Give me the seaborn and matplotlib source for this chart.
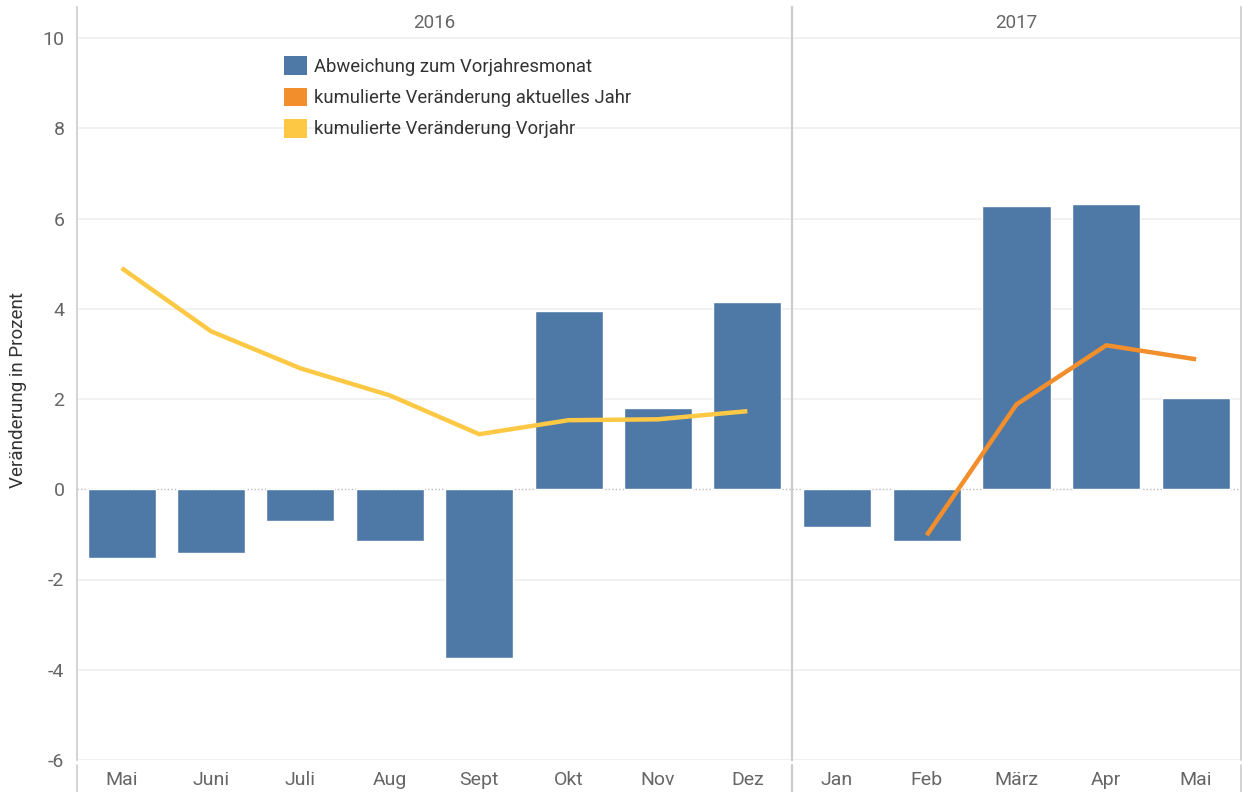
import matplotlib
matplotlib.use("Agg")
import matplotlib.pyplot as plt
from matplotlib.lines import Line2D
from matplotlib.patches import Patch
import seaborn as sns
import numpy as np
import pandas as pd

# ---- data ----
months_2016 = ["Mai", "Juni", "Juli", "Aug", "Sept", "Okt", "Nov", "Dez"]
months_2017 = ["Jan", "Feb", "März", "Apr", "Mai"]
abw_2016 = [-1.53, -1.42, -0.71, -1.15, -3.73, 3.95, 1.80, 4.15]
abw_2017 = [-0.84, -1.15, 6.27, 6.32, 2.02]
kum_vorjahr_2016 = [4.90, 3.50, 2.68, 2.08, 1.22, 1.53, 1.55, 1.73]
kum_aktuell_2017 = [np.nan, -1.02, 1.88, 3.19, 2.88]
years = ["2016", "2017"]
legend_labels = ["Abweichung zum Vorjahresmonat",
                 "kumulierte Veränderung aktuelles Jahr",
                 "kumulierte Veränderung Vorjahr"]
y_ticks = [-6, -4, -2, 0, 2, 4, 6, 8, 10]

BLUE = "#4e79a7"
ORANGE = "#f28e2b"
YELLOW = "#fdc944"
GRID = "#efefef"
SEP = "#cccccc"
TICK = "#666666"

sns.set_theme(style="white")
plt.rcParams["font.family"] = ["Roboto", "DejaVu Sans"]

W, H = 1242, 792
fig = plt.figure(figsize=(W / 100, H / 100), dpi=100)

def fx(px):
    return px / W

def fy(py):
    return 1 - py / H

top_px, bot_px = 7, 760
left_px, mid_px, right_px = 77, 792, 1241
ax1 = fig.add_axes([fx(left_px), fy(bot_px), fx(mid_px - left_px), fy(top_px) - fy(bot_px)])
ax2 = fig.add_axes([fx(mid_px), fy(bot_px), fx(right_px - mid_px), fy(top_px) - fy(bot_px)], sharey=ax1)

# y scale: 10 at y=38, -6 at y=760
unit = (bot_px - 38) / 16.0
ytop = 10 + (38 - top_px) / unit
ylim = (-6, ytop)

df1 = pd.DataFrame({"Monat": months_2016, "Wert": abw_2016, "pos": np.arange(len(months_2016)),
                    "kum": kum_vorjahr_2016})
df2 = pd.DataFrame({"Monat": months_2017, "Wert": abw_2017, "pos": np.arange(len(months_2017)),
                    "kum": kum_aktuell_2017})

for ax, df, year, line_col in [(ax1, df1, years[0], YELLOW), (ax2, df2, years[1], ORANGE)]:
    for y in y_ticks:
        if y != 0:
            ax.axhline(y, color=GRID, linewidth=1.2, zorder=0)
    ax.axhline(0, color="#bbbbbb", linewidth=1, linestyle=(0, (1, 1.5)), zorder=1)
    sns.barplot(data=df, x="Monat", y="Wert", order=list(df["Monat"]), color=BLUE,
                saturation=1, width=0.76, ax=ax, zorder=2)
    sns.lineplot(data=df.dropna(), x="pos", y="kum", color=line_col, linewidth=3.2,
                 ax=ax, zorder=3, solid_capstyle="butt")
    ax.set_xlim(-0.5, len(df) - 0.5)
    ax.set_ylim(*ylim)
    ax.set_xlabel("")
    ax.set_ylabel("")
    ax.tick_params(axis="x", length=0, pad=8, labelsize=14, labelcolor=TICK)
    ax.tick_params(axis="y", length=0, pad=9, labelsize=14, labelcolor=TICK)
    for s in ["top", "bottom"]:
        ax.spines[s].set_visible(False)
    ax.text(0.5, 1 - 16 / (bot_px - top_px), year, transform=ax.transAxes,
            ha="center", va="center", fontsize=13.5, color=TICK)

ax1.set_yticks(y_ticks)
ax1.set_yticklabels([str(t) for t in y_ticks])
ax1.spines["right"].set_visible(False)
ax1.spines["left"].set_color(SEP)
ax1.spines["left"].set_linewidth(1.2)
ax2.spines["left"].set_color(SEP)
ax2.spines["left"].set_linewidth(1.6)
ax2.spines["right"].set_color(SEP)
ax2.spines["right"].set_linewidth(1.2)
ax2.tick_params(axis="y", labelleft=False)
ax1.set_ylabel("Veränderung in Prozent", fontsize=13.5, color="#333333")
ax1.yaxis.set_label_coords((27 - left_px) / (mid_px - left_px), (bot_px - 390) / (bot_px - top_px))

# header separators below the axis
for px, lw in [(left_px, 1.2), (mid_px, 1.6), (right_px, 1.2)]:
    fig.add_artist(Line2D([fx(px), fx(px)], [fy(765), fy(792)], color=SEP, linewidth=lw))

handles = [Patch(facecolor=BLUE, edgecolor="none"),
           Patch(facecolor=ORANGE, edgecolor="none"),
           Patch(facecolor=YELLOW, edgecolor="none")]
ax1.legend(handles, legend_labels, loc="upper left",
           bbox_to_anchor=(fx(277), fy(49)), bbox_transform=fig.transFigure,
           frameon=False, fontsize=13.3, handlelength=1.2, handleheight=1.2,
           handletextpad=0.42, labelspacing=0.62, labelcolor="#333333", borderaxespad=0)

fig.savefig("out.png", dpi=100)
